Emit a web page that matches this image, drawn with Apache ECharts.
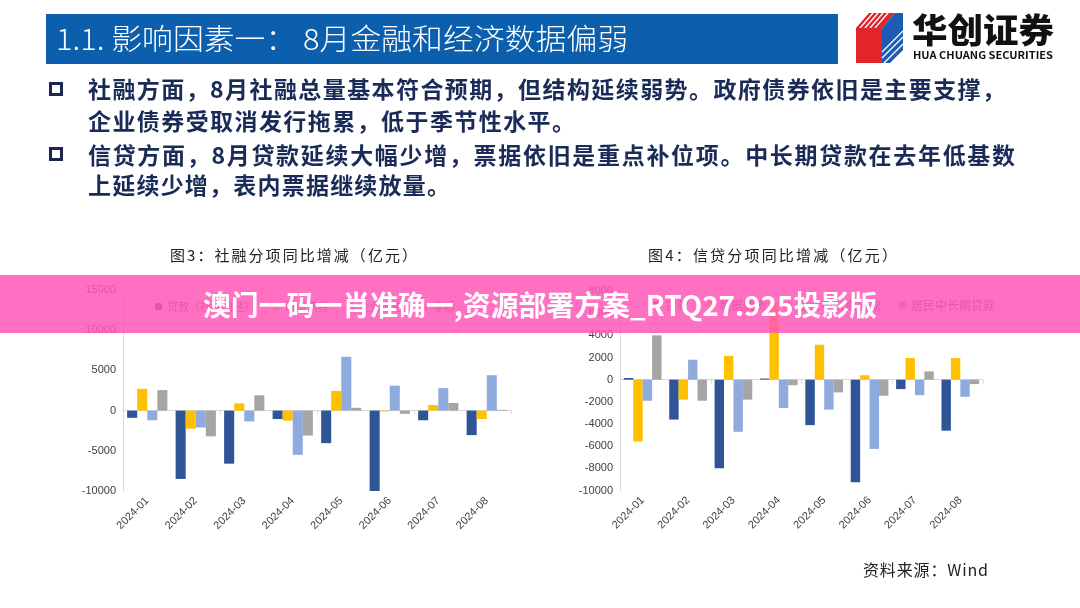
<!DOCTYPE html>
<html>
<head>
<meta charset="utf-8">
<script src="https://cdn.jsdelivr.net/npm/echarts@6/dist/echarts.min.js"></script>
<style>
  html, body { margin: 0; padding: 0; background: #fff; }
  #page { position: relative; width: 1080px; height: 608px; overflow: hidden; }
  #chart { position: absolute; left: 0; top: 0; width: 1080px; height: 608px; }
  #deco { position: absolute; left: 0; top: 0; pointer-events: none; }
  #deco text { font-family: "Noto Sans CJK SC", sans-serif; }
</style>
</head>
<body>
<div id="page">
  <div id="chart"></div>
  <svg id="deco" width="1080" height="608">
    <!-- header -->
    <rect x="46" y="14" width="792" height="50" fill="#0c5fad"/>
    <text x="56" y="50" font-size="29" font-weight="300" fill="#fff" textLength="572" lengthAdjust="spacingAndGlyphs">1.1. 影响因素一： 8月金融和经济数据偏弱</text>
    <!-- logo -->
    <polygon points="856,28 869,13 895,13 882,28" fill="#e2242b"/>
    <line x1="860" y1="28" x2="873" y2="13" stroke="#fff" stroke-width="1.3"/>
    <line x1="865" y1="28" x2="878" y2="13" stroke="#fff" stroke-width="1.3"/>
    <line x1="870" y1="28" x2="883" y2="13" stroke="#fff" stroke-width="1.3"/>
    <line x1="875" y1="28" x2="888" y2="13" stroke="#fff" stroke-width="1.3"/>
    <rect x="856" y="28" width="26" height="35" fill="#e2242b"/>
    <polygon points="882,28 895,13 903,13 903,50 890,63 882,63" fill="#1d5bb5"/>
    <line x1="882" y1="58" x2="903" y2="37" stroke="#fff" stroke-width="1.2"/>
    <line x1="884" y1="63" x2="903" y2="44" stroke="#fff" stroke-width="1.2"/>
    <line x1="882" y1="52" x2="903" y2="31" stroke="#fff" stroke-width="1.2"/>
    <text x="912" y="43" font-size="34" font-weight="900" fill="#111" textLength="142" lengthAdjust="spacingAndGlyphs">华创证券</text>
    <text x="913" y="59" font-size="10" font-weight="700" fill="#111" textLength="140" lengthAdjust="spacingAndGlyphs">HUA CHUANG SECURITIES</text>
    <!-- bullets -->
    <rect x="50.5" y="83.5" width="11" height="11" fill="none" stroke="#1b2750" stroke-width="3"/>
    <rect x="50.5" y="148.5" width="11" height="11" fill="none" stroke="#1b2750" stroke-width="3"/>
    <g font-size="23" font-weight="700" fill="#1b2b57">
      <text x="88" y="98" textLength="917" lengthAdjust="spacing">社融方面，8月社融总量基本符合预期，但结构延续弱势。政府债券依旧是主要支撑，</text>
      <text x="88" y="130" textLength="487" lengthAdjust="spacing">企业债券受取消发行拖累，低于季节性水平。</text>
      <text x="88" y="164" textLength="927" lengthAdjust="spacing">信贷方面，8月贷款延续大幅少增，票据依旧是重点补位项。中长期贷款在去年低基数</text>
      <text x="88" y="194" textLength="362" lengthAdjust="spacing">上延续少增，表内票据继续放量。</text>
    </g>
    <!-- chart titles -->
    <text x="170" y="261" font-size="15" font-weight="400" fill="#222" textLength="247" lengthAdjust="spacing">图3：社融分项同比增减（亿元）</text>
    <text x="648" y="261" font-size="15" font-weight="400" fill="#222" textLength="249" lengthAdjust="spacing">图4：信贷分项同比增减（亿元）</text>
    <text x="863" y="576" font-size="16" font-weight="400" fill="#222" textLength="125" lengthAdjust="spacing">资料来源：Wind</text>
    <!-- banner -->
    <rect x="0" y="275" width="1080" height="58" fill="rgba(255,87,184,0.85)"/>
    <text x="203" y="316" font-size="28" font-weight="700" fill="#fff" textLength="674" lengthAdjust="spacingAndGlyphs">澳门一码一肖准确一,资源部署方案_RTQ27.925投影版</text>
  </svg>
</div>
<script>
(function() {
  'use strict';

  // ========== Data ==========
  var months = ['2024-01', '2024-02', '2024-03', '2024-04', '2024-05', '2024-06', '2024-07', '2024-08'];

  // 图3 社融分项同比增减（亿元）
  var tsfNames = ['贷款（社融口径）', '政府债券', '企业债券', '非标'];
  var tsfLoan = [-900, -8500, -6600, -1050, -4050, -10150, -1200, -3050];
  var tsfGovBond = [2700, -2250, 900, -1250, 2450, -100, 700, -1050];
  var tsfCorpBond = [-1200, -2100, -1350, -5500, 6700, 3100, 2800, 4400];
  var tsfNonStd = [2550, -3200, 1900, -3100, 350, -400, 950, 100];

  // 图4 信贷分项同比增减（亿元）
  var crNames = ['贷款', '票据融资', '企业中长期贷款', '居民中长期贷款'];
  var crLoan = [150, -3600, -8000, 100, -4100, -9250, -850, -4600];
  var crBill = [-5580, -1800, 2150, 7100, 3150, 400, 1950, 1950];
  var crCorpMid = [-1900, 1800, -4700, -2560, -2700, -6250, -1400, -1550];
  var crHouseMid = [4000, -1900, -1800, -500, -1150, -1450, 750, -400];

  var colors = ['#2f5597', '#ffc000', '#8faadc', '#a5a5a5'];
  var axisGray = '#d9d9d9';
  var labelGray = '#404040';
  var font = 'Liberation Sans';

  function labelAxis(grid) {
    return {
      type: 'category', gridIndex: grid, data: months, position: 'bottom',
      axisLine: { show: false, onZero: false },
      axisTick: { show: false },
      axisLabel: { rotate: 45, margin: 8, color: labelGray, fontSize: 11, fontFamily: font, interval: 0 }
    };
  }
  function zeroAxis(grid) {
    return {
      type: 'category', gridIndex: grid, data: months, position: 'bottom',
      axisLine: { show: true, onZero: true, lineStyle: { color: axisGray, width: 1 } },
      axisTick: { show: true, length: 4, lineStyle: { color: axisGray } },
      axisLabel: { show: false }
    };
  }
  function valueAxis(grid, min, max, step) {
    return {
      type: 'value', gridIndex: grid, min: min, max: max, interval: step,
      axisLine: { show: true, lineStyle: { color: axisGray } },
      axisTick: { show: false },
      splitLine: { show: false },
      axisLabel: {
        margin: 7, color: labelGray, fontSize: 11, fontFamily: font,
        formatter: function(v) { return String(v); }
      }
    };
  }
  function bars(names, lists, axisIdx) {
    return lists.map(function(d, i) {
      return {
        name: names[i], type: 'bar', data: d,
        xAxisIndex: axisIdx, yAxisIndex: axisIdx / 2,
        barGap: '0%', barCategoryGap: '17%',
        itemStyle: { color: colors[i] }
      };
    });
  }

  var chart = echarts.init(document.getElementById('chart'), null, { renderer: 'canvas' });
  chart.setOption({
    animation: false,
    color: colors,
    grid: [
      { left: 123, top: 290, width: 388, height: 201 },
      { left: 620, top: 291, width: 363, height: 199.5 }
    ],
    legend: [
      {
        data: tsfNames, left: 150, top: 296, itemWidth: 7, itemHeight: 7, itemGap: 18,
        textStyle: { color: '#555', fontSize: 11, fontFamily: 'Noto Sans CJK SC' }
      },
      {
        data: crNames, left: 648, top: 294, itemWidth: 7, itemHeight: 7, itemGap: 18,
        textStyle: { color: '#555', fontSize: 12, fontFamily: 'Noto Sans CJK SC' }
      }
    ],
    xAxis: [labelAxis(0), zeroAxis(0), labelAxis(1), zeroAxis(1)],
    yAxis: [valueAxis(0, -10000, 15000, 5000), valueAxis(1, -10000, 8000, 2000)],
    series: bars(tsfNames, [tsfLoan, tsfGovBond, tsfCorpBond, tsfNonStd], 0)
      .concat(bars(crNames, [crLoan, crBill, crCorpMid, crHouseMid], 2))
  });
})();
</script>
</body>
</html>
